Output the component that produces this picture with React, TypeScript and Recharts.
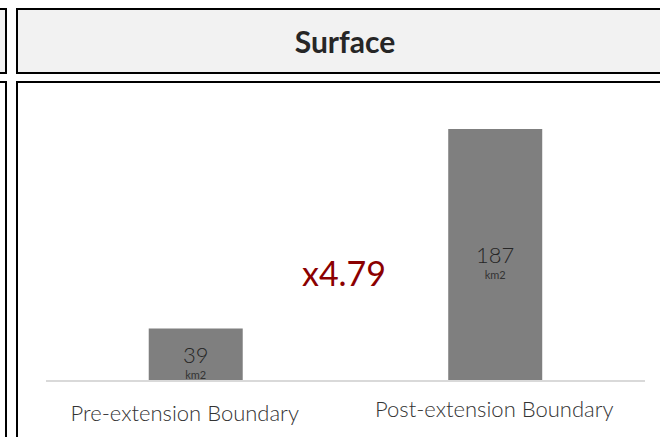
import React from "react";
import { BarChart, Bar, XAxis, YAxis, LabelList } from "recharts";

const categories = ["Pre-extension Boundary", "Post-extension Boundary"];
const surfaceKm2 = [39, 187];
const unitLabel = "km2";
const panelTitle = "Surface";

const data = categories.map((name, i) => ({ name, value: surfaceKm2[i] }));
const ratio = (surfaceKm2[1] / surfaceKm2[0]).toFixed(2);

const FONT = "Lato, 'Open Sans', sans-serif";
const TEXT = "#333333";

// small per-tick nudges to mimic the reference's label placement
const tickNudgeX = [-11, -1];
const tickNudgeY = [40, 36];

const AxisTick = (props: any) => {
  const { x, y, payload, index } = props;
  return (
    <text
      x={x + (tickNudgeX[index] ?? 0)}
      y={y + (tickNudgeY[index] ?? 38)}
      textAnchor="middle"
      fill={TEXT}
      fontSize={22}
      fontFamily={FONT}
      fontWeight={300}
    >
      {payload.value}
    </text>
  );
};

const ValueLabel = (props: any) => {
  const { x, y, width, height, value } = props;
  const cx = x + width / 2;
  const cy = y + height / 2;
  return (
    <g>
      <text
        x={cx}
        y={cy}
        dy={8}
        textAnchor="middle"
        fill="#262626"
        fontSize={22}
        fontFamily={FONT}
        fontWeight={300}
      >
        {value}
      </text>
      <text
        x={cx}
        y={cy + 20}
        dy={4}
        textAnchor="middle"
        fill={TEXT}
        fontSize={11}
        fontFamily={FONT}
      >
        {unitLabel}
      </text>
    </g>
  );
};

const box = (style: React.CSSProperties): React.CSSProperties => ({
  position: "absolute",
  boxSizing: "border-box",
  border: "2px solid #000",
  ...style,
});

export default function App() {
  return (
    <div
      style={{
        position: "fixed",
        left: 0,
        top: 0,
        width: 660,
        height: 437,
        overflow: "hidden",
        background: "#fff",
        fontFamily: FONT,
      }}
    >
      <div style={box({ left: -20, top: 8, width: 27, height: 66, background: "#f2f2f2" })} />
      <div style={box({ left: -20, top: 81, width: 27, height: 420, background: "#fff" })} />
      <div
        style={box({
          left: 16,
          top: 8,
          width: 658,
          height: 66,
          background: "#f2f2f2",
          display: "flex",
          alignItems: "center",
          justifyContent: "center",
          fontWeight: 700,
          fontSize: 30,
          color: "#262626",
        })}
      >
        {panelTitle}
      </div>
      <div style={box({ left: 16, top: 81, width: 658, height: 420, background: "#fff" })} />
      <div style={{ position: "absolute", left: 0, top: 0 }}>
        <BarChart
          width={660}
          height={437}
          data={data}
          margin={{ top: 111.5, right: 15, bottom: 0, left: 46 }}
          barCategoryGap="34.3%"
        >
          <XAxis
            dataKey="name"
            height={56}
            axisLine={{ stroke: "#d9d9d9", strokeWidth: 2 }}
            tickLine={false}
            tickSize={0}
            tickMargin={0}
            tick={<AxisTick />}
            interval={0}
          />
          <YAxis hide domain={[0, 200]} />
          <Bar dataKey="value" fill="#7f7f7f" isAnimationActive={false}>
            <LabelList dataKey="value" content={<ValueLabel />} />
          </Bar>
        </BarChart>
      </div>
      <div
        style={{
          position: "absolute",
          left: 244,
          width: 200,
          top: 251,
          textAlign: "center",
          color: "#8b0000",
          fontSize: 34,
          lineHeight: "44px",
          fontFamily: FONT,
        }}
      >
        x{ratio}
      </div>
    </div>
  );
}
